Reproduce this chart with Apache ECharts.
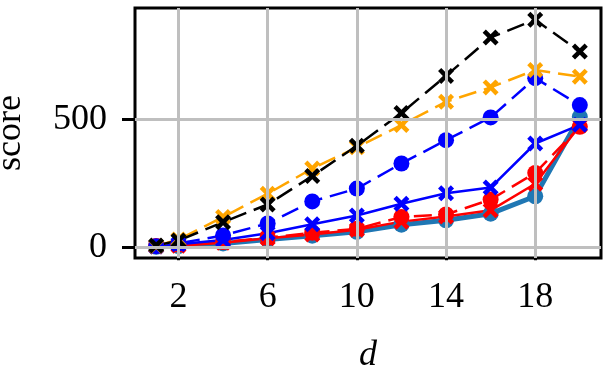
<!DOCTYPE html>
<html>
<head>
<meta charset="utf-8">
<script src="https://cdn.jsdelivr.net/npm/echarts@6/dist/echarts.min.js"></script>
<style>
html,body{margin:0;padding:0;background:#fff;}
#chart{width:603px;height:370px;}
</style>
</head>
<body>
<div id="chart"></div>
<script>
// 数据
var dVals = [1, 2, 4, 6, 8, 10, 12, 14, 16, 18, 20];
var xTicks = [2, 6, 10, 14, 18];
var yTicks = [0, 500];
var steelCircle = [2, 4, 15, 30, 45, 60, 88, 105, 131, 199, 509];
var redCross = [3, 6, 18, 35, 50, 68, 100, 120, 144, 248, 475];
var redCircle = [5, 10, 20, 37, 57, 72, 118, 128, 186, 290, 470];
var blueCross = [3, 12, 28, 55, 90, 124, 170, 211, 233, 405, 478];
var blueCircle = [4, 15, 46, 93, 179, 229, 327, 418, 507, 660, 555];
var orangeCross = [5, 30, 118, 209, 307, 390, 477, 568, 624, 692, 666];
var blackCross = [7, 26, 98, 167, 278, 396, 524, 669, 819, 888, 764];

var chart = echarts.init(document.getElementById("chart"));
var FONT = 'Liberation Serif';
// 粗的 x 标记
var CROSS = 'path://M0,2L2,0L5,3L8,0L10,2L7,5L10,8L8,10L5,7L2,10L0,8L3,5Z';

function pairs(ys) {
    return dVals.map(function (d, i) { return [d, ys[i]]; });
}

function mk(name, ys, color, width, dashed, symbol, size) {
    return {
        name: name,
        type: 'line',
        data: pairs(ys),
        symbol: symbol === 'x' ? CROSS : 'circle',
        symbolSize: size,
        showSymbol: true,
        animation: false,
        lineStyle: {color: color, width: width, type: dashed ? [18, 8] : 'solid'},
        itemStyle: {color: color, borderWidth: 0}
    };
}

// 网格线
var gridSeries = {
    type: 'line',
    data: [],
    z: 1,
    silent: true,
    markLine: {
        silent: true,
        symbol: 'none',
        animation: false,
        label: {show: false},
        lineStyle: {color: '#bfbfbf', width: 3, type: 'solid'},
        data: xTicks.map(function (v) { return {xAxis: v}; })
            .concat(yTicks.map(function (v) { return {yAxis: v}; }))
    }
};

var option = {
    animation: false,
    grid: {
        left: 135, right: 2, top: 8, bottom: 112,
        outerBoundsMode: 'none',
        containLabel: false,
        show: true, borderColor: '#000', borderWidth: 3, backgroundColor: '#fff'
    },
    xAxis: {
        type: 'value',
        min: 0.05,
        max: 20.95,
        name: 'd',
        nameLocation: 'middle',
        nameGap: 80,
        nameTextStyle: {fontFamily: FONT, fontSize: 36, fontStyle: 'italic', color: '#000'},
        axisLine: {show: false},
        splitLine: {show: false},
        axisTick: {show: true, length: 13, lineStyle: {color: '#000', width: 3}, customValues: xTicks},
        axisLabel: {fontFamily: FONT, fontSize: 36, color: '#000', margin: 22, customValues: xTicks}
    },
    yAxis: {
        type: 'value',
        min: -42,
        max: 934,
        name: 'score',
        nameLocation: 'middle',
        nameRotate: 90,
        nameGap: 106,
        nameTextStyle: {fontFamily: FONT, fontSize: 36, color: '#000'},
        axisLine: {show: false},
        splitLine: {show: false},
        axisTick: {show: true, length: 13, lineStyle: {color: '#000', width: 3}, customValues: yTicks},
        axisLabel: {fontFamily: FONT, fontSize: 36, color: '#000', margin: 28, customValues: yTicks}
    },
    series: [
        gridSeries,
        mk('steel', steelCircle, '#1f77b4', 5, false, 'o', 16),
        mk('redx', redCross, '#ff0000', 2.5, false, 'x', 16),
        mk('redo', redCircle, '#ff0000', 2.5, true, 'o', 16),
        mk('bluex', blueCross, '#0000ff', 2.5, false, 'x', 16),
        mk('blueo', blueCircle, '#0000ff', 2.5, true, 'o', 16),
        mk('orange', orangeCross, '#ffa500', 2.5, true, 'x', 16),
        mk('black', blackCross, '#000000', 2.5, true, 'x', 16)
    ]
};
chart.setOption(option);
</script>
</body>
</html>
